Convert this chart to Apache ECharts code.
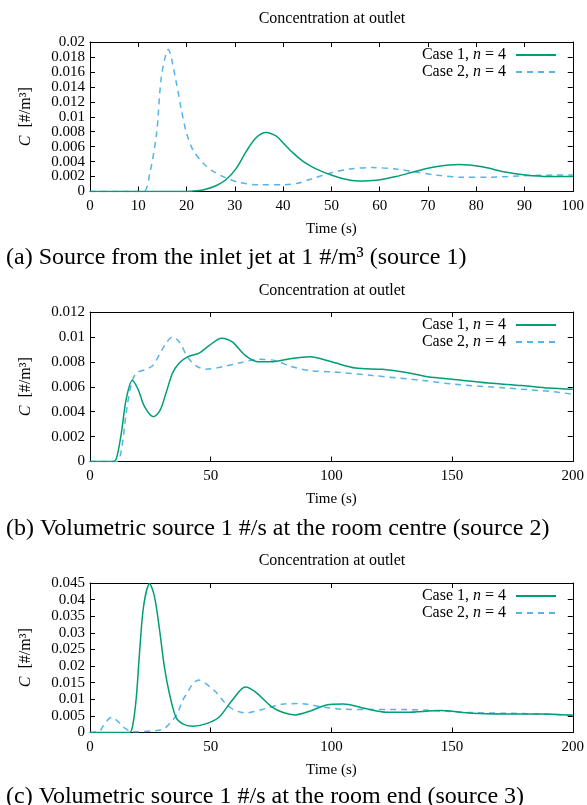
<!DOCTYPE html>
<html>
<head>
<meta charset="utf-8">
<script src="https://cdn.jsdelivr.net/npm/echarts@6/dist/echarts.min.js"></script>
<style>
  html, body { margin: 0; padding: 0; background: #fff; }
  #chart { width: 587px; height: 805px; }
</style>
</head>
<body>
<div id="chart"></div>
<script>
// (a) source 1
const a1T = [0, 18, 21, 23.4, 26.2, 28.2, 30.3, 32.4, 34.4, 36.5, 38.6, 40, 42, 44, 46, 48, 50, 52.5, 55.5, 59.3, 63.4, 67.5, 71.6, 76.4, 81.2, 86, 90.2, 95, 100]
const a1C = [0, 0, 0.00005, 0.0002, 0.0008, 0.0016, 0.0031, 0.0054, 0.0072, 0.0079, 0.0074, 0.0065, 0.0052, 0.0041, 0.0033, 0.0027, 0.0022, 0.0017, 0.0014, 0.0015, 0.002, 0.0027, 0.0033, 0.0036, 0.0033, 0.0026, 0.0022, 0.002, 0.002]
const a2T = [0, 11, 12.4, 13.8, 14.8, 16.2, 17.9, 18.9, 20, 21.3, 23.4, 25.5, 28.2, 31, 35, 40, 43, 45.5, 50, 53.8, 58.6, 63.4, 67.5, 71.6, 77.1, 82.6, 89.5, 96.4, 100]
const a2C = [0, 0, 0.0025, 0.0078, 0.0154, 0.019, 0.0145, 0.011, 0.0078, 0.0056, 0.0038, 0.0027, 0.0018, 0.0012, 0.0009, 0.0009, 0.0011, 0.0016, 0.0025, 0.003, 0.0032, 0.003, 0.0026, 0.0022, 0.0019, 0.0019, 0.0021, 0.0022, 0.0022]

// (b) source 2
const b1T = [0, 9.6, 11, 13, 15, 17.5, 19.9, 22.6, 26.3, 29, 31.5, 34.2, 37, 40.4, 45.2, 49.3, 54.5, 58.9, 64.4, 69.9, 75.3, 83, 91, 100, 110, 121, 131, 140, 150, 165, 179, 190, 200]
const b1C = [0, 0, 0.00027, 0.0023, 0.005, 0.0065, 0.0058, 0.0044, 0.0036, 0.0041, 0.0055, 0.0071, 0.0079, 0.0084, 0.0087, 0.0093, 0.0099, 0.0096, 0.0085, 0.008, 0.008, 0.00825, 0.0084, 0.008, 0.0075, 0.0074, 0.00715, 0.0068, 0.0066, 0.0063, 0.0061, 0.0059, 0.0058]
const b2T = [0, 11, 13, 15, 17.1, 19.2, 23.3, 26, 28.8, 31.5, 34.2, 37, 40.4, 43.8, 47.9, 54.8, 61.6, 69.9, 76.7, 83, 91, 100, 117, 138, 151, 172, 192, 200]
const b2C = [0, 0, 0.0009, 0.0039, 0.0062, 0.0071, 0.0074, 0.0077, 0.0086, 0.0095, 0.01, 0.0096, 0.0084, 0.0077, 0.0074, 0.0076, 0.0079, 0.0082, 0.0081, 0.00765, 0.0073, 0.0072, 0.0069, 0.0065, 0.0062, 0.0059, 0.0056, 0.0054]

// (c) source 3
const c1T = [0, 16.4, 17.8, 19.2, 20.5, 22.2, 24.7, 26.7, 28.8, 30.8, 32.9, 35.6, 38.4, 42.5, 47.9, 53.4, 58.9, 64.4, 68.5, 75.3, 80, 85, 91, 98, 105, 113, 123, 131, 145, 158, 172, 186, 200]
const c1C = [0, 0, 0.0026, 0.0107, 0.0238, 0.038, 0.0448, 0.041, 0.031, 0.0198, 0.0117, 0.0046, 0.0026, 0.0019, 0.0026, 0.0046, 0.0097, 0.0137, 0.0122, 0.0077, 0.006, 0.0053, 0.0064, 0.0083, 0.0086, 0.0074, 0.0061, 0.0061, 0.0066, 0.0058, 0.0056, 0.0056, 0.0052]
const c2T = [0, 4, 5.5, 9, 11.6, 13.8, 17.9, 27.5, 31, 34, 36, 38.4, 40, 42.5, 45, 47.9, 50, 52.3, 55, 57.9, 61, 64.4, 68, 72.6, 79.5, 86.3, 90, 96.8, 105, 117, 131, 145, 158, 172, 186, 200]
const c2C = [0, 0.0004, 0.002, 0.0046, 0.0033, 0.0016, 0.0002, 0.0006, 0.0013, 0.0036, 0.0054, 0.0097, 0.0116, 0.0145, 0.0158, 0.0148, 0.0135, 0.0121, 0.0097, 0.0076, 0.0064, 0.0059, 0.0063, 0.0072, 0.0085, 0.0087, 0.0085, 0.0076, 0.007, 0.0069, 0.0069, 0.0065, 0.006, 0.0058, 0.0056, 0.0052]

const captions = [
  '(a) Source from the inlet jet at 1 #/m³ (source 1)',
  '(b) Volumetric source 1 #/s at the room centre (source 2)',
  '(c) Volumetric source 1 #/s at the room end (source 3)'
]

const FONT = 'Liberation Serif'
const GREEN = '#009e73'
const BLUE = '#56b4e9'

// 每个子图的位置和刻度
const panels = [
  { top: 42, xMax: 100, xStep: 10, yMax: 0.02, yStep: 0.002, s1: [a1T, a1C], s2: [a2T, a2C], titleTop: 11, capTop: 246 },
  { top: 312, xMax: 200, xStep: 50, yMax: 0.012, yStep: 0.002, s1: [b1T, b1C], s2: [b2T, b2C], titleTop: 283, capTop: 517 },
  { top: 583, xMax: 200, xStep: 50, yMax: 0.045, yStep: 0.005, s1: [c1T, c1C], s2: [c2T, c2C], titleTop: 553, capTop: 785 }
]

const zip = (t, c) => t.map((v, i) => [v, c[i]])
const fmtY = v => String(+v.toFixed(4))

let option = {
  backgroundColor: '#fff',
  animation: false,
  textStyle: { fontFamily: FONT, color: '#000' },
  title: [],
  legend: [],
  grid: [],
  xAxis: [],
  yAxis: [],
  series: []
}

panels.forEach((p, k) => {
  option.grid.push({ left: 90, top: p.top, width: 484, height: 149.5, containLabel: false })
  option.title.push({
    text: 'Concentration at outlet',
    left: 332, top: p.titleTop, textAlign: 'center', padding: 0,
    textStyle: { fontFamily: FONT, fontSize: 16, fontWeight: 'normal', color: '#000' }
  })
  option.title.push({
    text: captions[k],
    left: 6, top: p.capTop, padding: 0,
    textStyle: { fontFamily: FONT, fontSize: 24, fontWeight: 'normal', color: '#000' }
  })
  let axisLine = { show: true, onZero: false, lineStyle: { color: '#000', width: 1 } }
  let tick = { show: true, inside: true, length: 5, lineStyle: { color: '#000' } }
  // bottom / left axes carry labels, top / right are mirrors
  option.xAxis.push({
    type: 'value', gridIndex: k, min: 0, max: p.xMax, interval: p.xStep, position: 'bottom',
    axisLine: axisLine, axisTick: tick, splitLine: { show: false },
    axisLabel: { fontFamily: FONT, fontSize: 15, color: '#000', margin: 7 },
    name: 'Time (s)', nameLocation: 'middle', nameGap: 30,
    nameTextStyle: { fontFamily: FONT, fontSize: 15, color: '#000' }
  })
  option.xAxis.push({
    type: 'value', gridIndex: k, min: 0, max: p.xMax, interval: p.xStep, position: 'top',
    axisLine: axisLine, axisTick: tick, splitLine: { show: false }, axisLabel: { show: false }
  })
  option.yAxis.push({
    type: 'value', gridIndex: k, min: 0, max: p.yMax, interval: p.yStep, position: 'left',
    axisLine: axisLine, axisTick: tick, splitLine: { show: false },
    axisLabel: { fontFamily: FONT, fontSize: 15, color: '#000', margin: 5, formatter: fmtY },
    name: '{i|C}  [#/m³]', nameLocation: 'middle', nameRotate: 90, nameGap: 56,
    nameTextStyle: {
      fontFamily: FONT, fontSize: 16, color: '#000',
      rich: { i: { fontFamily: FONT, fontSize: 16, fontStyle: 'italic', color: '#000' } }
    }
  })
  option.yAxis.push({
    type: 'value', gridIndex: k, min: 0, max: p.yMax, interval: p.yStep, position: 'right',
    axisLine: axisLine, axisTick: tick, splitLine: { show: false }, axisLabel: { show: false }
  })
  let n1 = 'c1_' + k
  let n2 = 'c2_' + k
  option.legend.push({
    data: [n1, n2], orient: 'vertical', right: 25, top: p.top, padding: 5,
    align: 'right', itemWidth: 40, itemHeight: 14, itemGap: 1,
    itemStyle: { opacity: 0 },
    formatter: name => name.startsWith('c1') ? '{a|Case 1, }{i|n}{b| = 4}' : '{a|Case 2, }{i|n}{b| = 4}',
    textStyle: {
      fontFamily: FONT, fontSize: 16, color: '#000',
      rich: {
        a: { fontFamily: FONT, fontSize: 16, color: '#000' },
        b: { fontFamily: FONT, fontSize: 16, color: '#000', padding: [0, 5, 0, 0] },
        i: { fontFamily: FONT, fontSize: 16, fontStyle: 'italic', color: '#000' }
      }
    }
  })
  option.series.push({
    name: n1, type: 'line', xAxisIndex: 2 * k, yAxisIndex: 2 * k,
    data: zip(p.s1[0], p.s1[1]), symbol: 'none', smooth: 0.3,
    lineStyle: { color: GREEN, width: 1.5 }, itemStyle: { color: GREEN }, z: 3
  })
  option.series.push({
    name: n2, type: 'line', xAxisIndex: 2 * k, yAxisIndex: 2 * k,
    data: zip(p.s2[0], p.s2[1]), symbol: 'none', smooth: 0.3,
    lineStyle: { color: BLUE, width: 1.5, type: [6, 5] }, itemStyle: { color: BLUE }, z: 2
  })
})

let chart = echarts.init(document.getElementById('chart'))
chart.setOption(option)
</script>
</body>
</html>
